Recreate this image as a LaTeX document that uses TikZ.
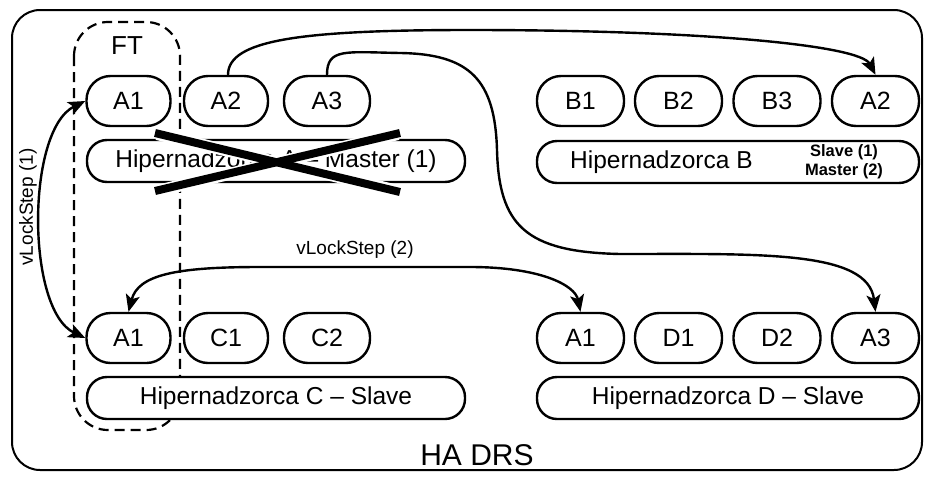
\documentclass[tikz,border=0pt]{standalone}
\usepackage{fontspec}
\setmainfont{Liberation Sans}
\usetikzlibrary{arrows.meta}
\begin{document}
\begin{tikzpicture}[x=1pt,y=-1pt,
  sbox/.style={draw, line width=2.4pt, rounded corners=24pt, fill=white,
    minimum width=85pt, minimum height=50pt, inner sep=0pt,
    font=\fontsize{25}{28}\selectfont},
  hbox/.style={draw, line width=2.4pt, rounded corners=20pt, fill=white,
    minimum height=42pt, inner sep=0pt,
    font=\fontsize{24.5}{27}\selectfont},
  conn/.style={line width=2.4pt, -{Stealth[length=17pt,width=14pt,inset=4pt]}},
  dconn/.style={line width=2.4pt, {Stealth[length=17pt,width=14pt,inset=4pt]}-{Stealth[length=17pt,width=14pt,inset=4pt]}},
  lbl/.style={inner sep=0pt, font=\fontsize{19}{21}\selectfont}
]
\useasboundingbox (0,0) rectangle (934,477);
% outer frame
\draw[line width=2pt, rounded corners=28pt] (12,10) rectangle (922,470);
% FT dashed frame
\draw[line width=2.2pt, dash pattern=on 10pt off 6pt, rounded corners=34pt] (74,22) rectangle (180,430);
\node[inner sep=0pt, font=\fontsize{26}{29}\selectfont] (ft) at (127,46) {FT};
% top left group
\node[sbox, minimum width=84pt] (a1t) at (128.5,101) {A1};
\node[sbox, minimum width=84pt] (a2t) at (226,101) {A2};
\node[sbox, minimum width=86pt] (a3t) at (327,101) {A3};
\node[hbox, minimum width=378pt] (ha) at (276,161) {Hipernadzorca A – Master (1)};
% cross
\draw[white, line width=12pt] (157,134) -- (398,191);
\draw[white, line width=12pt] (157,191) -- (398,134);
\draw[line width=8pt] (155,133) -- (400,192);
\draw[line width=8pt] (155,191) -- (400,133);
% top right group
\node[sbox, minimum width=87pt] (b1) at (580.5,101) {B1};
\node[sbox, minimum width=87pt] (b2) at (678.5,101) {B2};
\node[sbox, minimum width=87pt] (b3) at (777,101) {B3};
\node[sbox, minimum width=87pt] (a2r) at (875.5,101) {A2};
\node[hbox, minimum width=382pt] (hb) at (728,162) {};
\node[anchor=west, inner sep=0pt, font=\fontsize{24.5}{27}\selectfont] (hbt) at (570,162) {Hipernadzorca B};
\node[inner sep=0pt, align=center, font=\bfseries\fontsize{16.5}{19}\selectfont] (hbs) at (844,162) {Slave (1)\\Master (2)};
% bottom left group
\node[sbox, minimum width=84pt] (a1b) at (128.5,338) {A1};
\node[sbox, minimum width=84pt] (c1) at (226,338) {C1};
\node[sbox, minimum width=86pt] (c2) at (327,338) {C2};
\node[hbox, minimum width=378pt] (hc) at (276,398) {Hipernadzorca C – Slave};
% bottom right group
\node[sbox, minimum width=87pt] (a1d) at (580.5,338) {A1};
\node[sbox, minimum width=87pt] (d1) at (678.5,338) {D1};
\node[sbox, minimum width=87pt] (d2) at (777,338) {D2};
\node[sbox, minimum width=87pt] (a3d) at (875.5,338) {A3};
\node[hbox, minimum width=382pt] (hd) at (728,398) {Hipernadzorca D – Slave};
% labels
\node[inner sep=0pt, font=\fontsize{30}{33}\selectfont] (hadrs) at (477,455) {HA DRS};
\node[lbl, rotate=90] (vl1) at (28,207) {vLockStep (1)};
\node[lbl] (vl2) at (355,250) {vLockStep (2)};
% connectors
\draw[dconn] (a1t.west) .. controls (26,130) and (26,310) .. (a1b.west);
\draw[conn] ([xshift=2pt]a2t.north) .. controls (228,40) and (300,30) .. (470,30)
  .. controls (700,30) and (860,45) .. (a2r.north);
\draw[conn] (a3t.north) .. controls (327,48) and (345,52) .. (400,53)
  .. controls (470,54) and (495,80) .. (497,150)
  .. controls (499,225) and (525,252) .. (620,254)
  .. controls (760,254) and (868,250) .. (a3d.north);
\draw[dconn] (a1b.north) .. controls (138,275) and (175,267) .. (260,267) -- (470,267)
  .. controls (540,267) and (575,285) .. (a1d.north);
\end{tikzpicture}
\end{document}
